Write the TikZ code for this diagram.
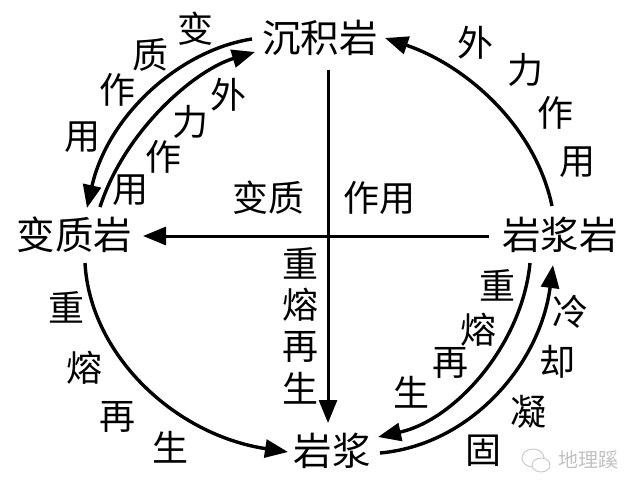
\documentclass[tikz,border=0pt]{standalone}
\usepackage{fontspec}
\usetikzlibrary{arrows.meta}
\newfontfamily\cjk{Noto Sans CJK SC}
\tikzset{
  x=1pt,y=-1pt,
  flow/.style={line width=3.4pt,-{Triangle[length=23pt,width=18pt]}},
  rock/.style={font=\cjk\fontsize{38.5}{38.5}\selectfont,inner sep=0pt},
  glyph/.style={font=\cjk\fontsize{36}{36}\selectfont,inner sep=0pt},
  mark wm/.style={font=\cjk\fontsize{20}{20}\selectfont,text=black!24,inner sep=0pt},
  bubble/.style={draw=black!20,line width=1pt,fill=white}
}
\begin{document}
\begin{tikzpicture}
\useasboundingbox (0,0) rectangle (640,493);
\node[rock] (sed) at (320,38) {沉积岩};
\node[rock] (met) at (74.5,235) {变质岩};
\node[rock] (ign) at (560,235) {岩浆岩};
\node[rock] (mag) at (332,451) {岩浆};
% end points
\coordinate (sedA) at (252,39);
\coordinate (sedB) at (255,52);
\coordinate (sedC) at (385,38);
\coordinate (metA) at (87,208);
\coordinate (metB) at (100,207);
\coordinate (metC) at (143,236);
\coordinate (metD) at (85,263);
\coordinate (ignA) at (552,206);
\coordinate (ignB) at (489,236);
\coordinate (ignC) at (530,263);
\coordinate (ignD) at (553,265);
\coordinate (magA) at (288,452);
\coordinate (magB) at (378,437);
\coordinate (magC) at (380,453);
\coordinate (magD) at (328,423);
\coordinate (sedD) at (328,70);
% connectors
\draw[flow] (sedA) .. controls (180,50) and (108,115) .. (metA);
\draw[flow] (metB) .. controls (125,130) and (195,70) .. (sedB);
\draw[flow] (ignA) .. controls (535,125) and (465,65) .. (sedC);
\draw[flow] (metD) .. controls (90,355) and (175,435) .. (magA);
\draw[flow] (ignC) .. controls (522,345) and (455,420) .. (magB);
\draw[flow] (magC) .. controls (470,445) and (540,365) .. (ignD);
\draw[flow,line width=3pt] (ignB) -- (metC);
\draw[flow,line width=3pt] (sedD) -- (magD);
% labels
\foreach \t/\x/\y in {变/195/29,质/150/55,作/117/90,用/82/137,
  外/228/95,力/190/122,作/163/157,用/130/190,
  外/475/43,力/525/70,作/555/113,用/577/162,
  重/66/307,熔/84/368,再/117/417,生/170/447,
  重/300/263,熔/300/305,再/300/347,生/300/388,
  重/497/285,熔/478/330,再/450/363,生/411/392,
  冷/570/312,却/557/362,凝/528/412,固/483/451}
  \node[glyph] at (\x,\y) {\t};
\node[glyph] (lblA) at (268,198) {变质};
\node[glyph] (lblB) at (379,198) {作用};
% watermark
\draw[bubble] (533,458) ellipse (11 and 9);
\draw[bubble] (541,465) ellipse (9 and 7);
\node[mark wm] (wm) at (588,460) {地理蹊};
\end{tikzpicture}
\end{document}
